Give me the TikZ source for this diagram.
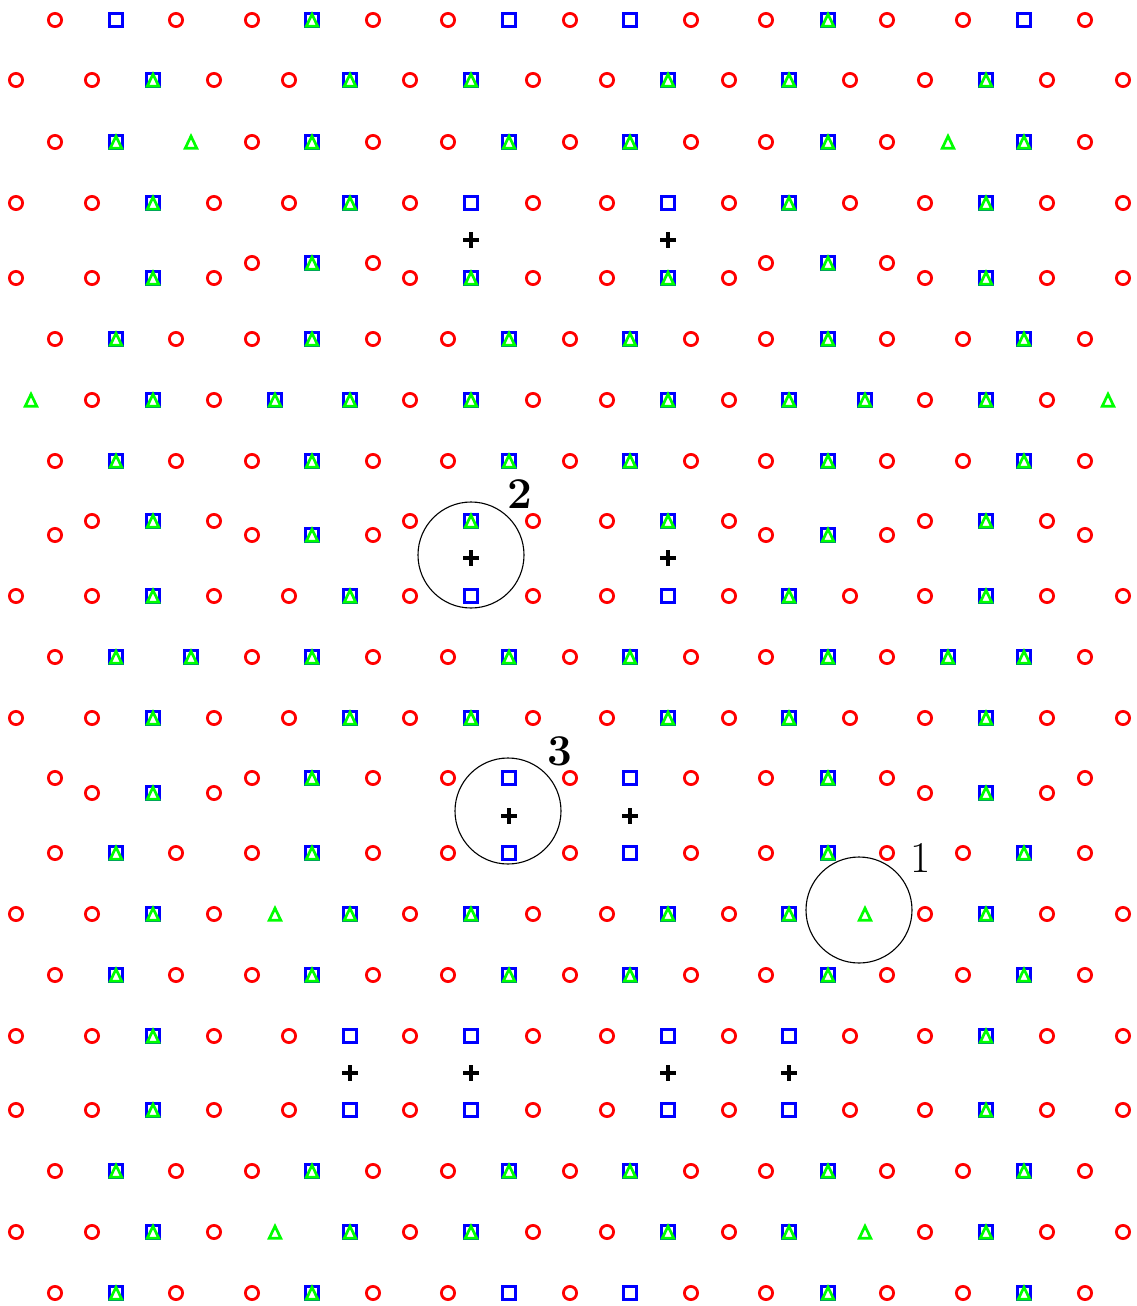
\documentclass[tikz,border=0pt]{standalone}
\begin{document}
\begin{tikzpicture}[x=0.5pt,y=-0.5pt]
\tikzset{
  ocirc/.style={draw=red, line width=1.4pt},
  osq/.style={draw=blue, line width=1.35pt},
  otri/.style={draw=green, line width=1.35pt},
  opl/.style={draw=black, line width=1.6pt},
  bigc/.style={draw=black, line width=0.55pt},
  lab/.style={inner sep=0pt, font=\fontsize{22}{26}\selectfont}
}
\newcommand\Oc[2]{\draw[ocirc] (#1,#2) circle[radius=6.6];}
\newcommand\Sq[2]{\draw[osq] (#1-6.8,#2-6.8) rectangle (#1+6.8,#2+6.8);}
\newcommand\Tr[2]{\draw[otri] (#1-5.8,#2+6.3) -- (#1+5.8,#2+6.3) -- (#1,#2-5.8) -- cycle;}
\newcommand\ST[2]{\Sq{#1}{#2}\Tr{#1}{#2}}
\newcommand\Pl[2]{\draw[opl] (#1-8,#2) -- (#1+8,#2) (#1,#2-8) -- (#1,#2+8);}
\def\Acirc{55,176,252,373,448,570,691,766,887,963,1085}
\def\Asq{116,312,509,630,828,1024}
\def\Bcirc{16,92,214,289,410,533,607,729,850,925,1047,1123}
\def\Bsq{153,350,471,668,789,986}
\useasboundingbox (0,0) rectangle (1136,1306);
% Row y=20
\foreach \x in \Acirc {\Oc{\x}{20}}
\foreach \x in {116,509,630,1024} {\Sq{\x}{20}}
\foreach \x in {312,828} {\ST{\x}{20}}
% Row y=80
\foreach \x in \Bcirc {\Oc{\x}{80}}
\foreach \x in \Bsq {\ST{\x}{80}}
% Row y=142
\foreach \x in {55,252,373,448,570,691,766,887,1085} {\Oc{\x}{142}}
\foreach \x in \Asq {\ST{\x}{142}}
\foreach \x in {191,948} {\Tr{\x}{142}}
% Row y=203
\foreach \x in \Bcirc {\Oc{\x}{203}}
\foreach \x in {153,350,789,986} {\ST{\x}{203}}
\foreach \x in {471,668} {\Sq{\x}{203}}
\foreach \x in {471,668} {\Pl{\x}{240}}
% Row y=278/263
\foreach \x in {16,92,214,410,533,607,729,925,1047,1123} {\Oc{\x}{278}}
\foreach \x in {153,471,668,986} {\ST{\x}{278}}
\foreach \x in {252,373,766,887} {\Oc{\x}{263}}
\foreach \x in {312,828} {\ST{\x}{263}}
% Row y=339
\foreach \x in \Acirc {\Oc{\x}{339}}
\foreach \x in \Asq {\ST{\x}{339}}
% Row y=400
\foreach \x in {92,214,410,533,607,729,925,1047} {\Oc{\x}{400}}
\foreach \x in {153,275,350,471,668,789,865,986} {\ST{\x}{400}}
\foreach \x in {31,1108} {\Tr{\x}{400}}
% Row y=461
\foreach \x in \Acirc {\Oc{\x}{461}}
\foreach \x in \Asq {\ST{\x}{461}}
% Row y=521/535
\foreach \x in {92,214,410,533,607,729,925,1047} {\Oc{\x}{521}}
\foreach \x in {153,471,668,986} {\ST{\x}{521}}
\foreach \x in {55,252,373,766,887,1085} {\Oc{\x}{535}}
\foreach \x in {312,828} {\ST{\x}{535}}
\foreach \x in {471,668} {\Pl{\x}{558}}
% Row y=596
\foreach \x in \Bcirc {\Oc{\x}{596}}
\foreach \x in {153,350,789,986} {\ST{\x}{596}}
\foreach \x in {471,668} {\Sq{\x}{596}}
% Row y=657
\foreach \x in {55,252,373,448,570,691,766,887,1085} {\Oc{\x}{657}}
\foreach \x in {116,191,312,509,630,828,948,1024} {\ST{\x}{657}}
% Row y=718
\foreach \x in \Bcirc {\Oc{\x}{718}}
\foreach \x in \Bsq {\ST{\x}{718}}
% Row y=778/793
\foreach \x in {55,252,373,448,570,691,766,887,1085} {\Oc{\x}{778}}
\foreach \x in {312,828} {\ST{\x}{778}}
\foreach \x in {509,630} {\Sq{\x}{778}}
\foreach \x in {92,214,925,1047} {\Oc{\x}{793}}
\foreach \x in {153,986} {\ST{\x}{793}}
\foreach \x in {509,630} {\Pl{\x}{816}}
% Row y=853
\foreach \x in \Acirc {\Oc{\x}{853}}
\foreach \x in {116,312,828,1024} {\ST{\x}{853}}
\foreach \x in {509,630} {\Sq{\x}{853}}
% Row y=914
\foreach \x in {16,92,214,410,533,607,729,925,1047,1123} {\Oc{\x}{914}}
\foreach \x in \Bsq {\ST{\x}{914}}
\foreach \x in {275,865} {\Tr{\x}{914}}
% Row y=975
\foreach \x in \Acirc {\Oc{\x}{975}}
\foreach \x in \Asq {\ST{\x}{975}}
% Rows y=1036 and y=1110
\foreach \y in {1036,1110} {
  \foreach \x in \Bcirc {\Oc{\x}{\y}}
  \foreach \x in {153,986} {\ST{\x}{\y}}
  \foreach \x in {350,471,668,789} {\Sq{\x}{\y}}
}
\foreach \x in {350,471,668,789} {\Pl{\x}{1073}}
% Row y=1171
\foreach \x in \Acirc {\Oc{\x}{1171}}
\foreach \x in \Asq {\ST{\x}{1171}}
% Row y=1232
\foreach \x in {16,92,214,410,533,607,729,925,1047,1123} {\Oc{\x}{1232}}
\foreach \x in \Bsq {\ST{\x}{1232}}
\foreach \x in {275,865} {\Tr{\x}{1232}}
% Row y=1293
\foreach \x in \Acirc {\Oc{\x}{1293}}
\foreach \x in {116,312,828,1024} {\ST{\x}{1293}}
\foreach \x in {509,630} {\Sq{\x}{1293}}
% big circles and labels
\draw[bigc] (471,555) circle[radius=53];
\draw[bigc] (508,811) circle[radius=53];
\draw[bigc] (859,910) circle[radius=53];
\node[lab] (l2) at (520,494) {\bfseries 2};
\node[lab] (l3) at (560,751) {\bfseries 3};
\node[lab] (l1) at (921,858) {1};
\end{tikzpicture}
\end{document}
